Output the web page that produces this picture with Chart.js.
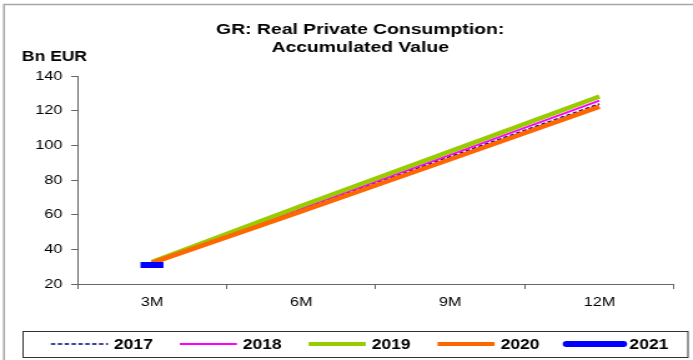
<!DOCTYPE html>
<html>
<head>
<meta charset="utf-8">
<title>GR: Real Private Consumption</title>
<script src="https://cdn.jsdelivr.net/npm/chart.js@4.4.0/dist/chart.umd.min.js"></script>
<style>
    html, body { margin: 0; padding: 0; background: #fff; overflow: hidden; }
    /* the sheet is laid out narrow and stretched wide, like the exported chart */
    #wrap { width: 555px; height: 360px; transform: scaleX(1.2486); transform-origin: 0 0; }
</style>
</head>
<body>
<div id="wrap"><canvas id="chart" width="555" height="360"></canvas></div>
<script>
// Quarterly accumulated real private consumption, bn EUR
const quarters = ['3M', '6M', '9M', '12M'];
const y2017 = [32.3, 63.0, 93.5, 123.9];
const y2018 = [32.4, 63.6, 94.5, 125.8];
const y2019 = [32.6, 65.0, 96.5, 128.2];
const y2020 = [32.2, 61.8, 92.0, 122.3];
const y2021 = [31.0];

const yTicks = [20, 40, 60, 80, 100, 120, 140];

const FONT = '"Liberation Sans", Arial, sans-serif';

// title, unit label, frame and the boxed legend at the bottom
const decorations = {
    id: 'decorations',
    afterDraw(chart) {
        const ctx = chart.ctx;
        ctx.save();

        // outer frame (only top and left edge show)
        ctx.strokeStyle = '#a6a6a6';
        ctx.lineWidth = 1.5;
        ctx.beginPath();
        ctx.moveTo(3.2, 360);
        ctx.lineTo(3.2, 4.5);
        ctx.lineTo(555, 4.5);
        ctx.stroke();

        ctx.fillStyle = '#000';
        ctx.font = 'bold 15.5px ' + FONT;
        ctx.textAlign = 'center';
        ctx.textBaseline = 'alphabetic';
        ctx.fillText('GR: Real Private Consumption:', 288.5, 33.5);
        ctx.fillText('Accumulated Value', 288.5, 51.5);

        ctx.font = 'bold 14px ' + FONT;
        ctx.textAlign = 'left';
        ctx.fillText('Bn EUR', 17.6, 61);

        // legend box
        ctx.strokeStyle = '#333';
        ctx.lineWidth = 1;
        ctx.strokeRect(18.5, 331.5, 532.5, 26);

        const cy = 344;
        chart.data.datasets.forEach((ds, i) => {
            const x0 = 40.8 + i * 103.2;
            ctx.save();
            ctx.strokeStyle = ds.legendColor;
            ctx.lineWidth = ds.legendLineWidth;
            ctx.lineCap = ds.legendCap || 'butt';
            ctx.setLineDash(ds.borderDash || []);
            ctx.beginPath();
            ctx.moveTo(x0, cy);
            ctx.lineTo(x0 + 45.7, cy);
            ctx.stroke();
            ctx.restore();

            ctx.fillStyle = '#000';
            ctx.font = 'bold 14px ' + FONT;
            ctx.textAlign = 'left';
            ctx.textBaseline = 'middle';
            ctx.fillText(ds.label, x0 + 50.5, cy + 1);
        });

        ctx.restore();
    }
};

const datasets = [
    {
        label: '2017',
        data: y2017,
        borderColor: '#000080',
        borderWidth: 1.5,
        borderDash: [3.5, 2],
        legendColor: '#000080',
        legendLineWidth: 1.5,
        order: 4
    },
    {
        label: '2018',
        data: y2018,
        borderColor: '#FF00FF',
        borderWidth: 2,
        legendColor: '#FF00FF',
        legendLineWidth: 2,
        order: 3
    },
    {
        label: '2019',
        data: y2019,
        borderColor: '#99CC00',
        borderWidth: 4.5,
        legendColor: '#99CC00',
        legendLineWidth: 4,
        order: 2
    },
    {
        label: '2020',
        data: y2020,
        borderColor: '#FF6600',
        borderWidth: 4.5,
        legendColor: '#FF6600',
        legendLineWidth: 4,
        order: 1
    },
    {
        label: '2021',
        data: y2021,
        borderColor: '#0000FF',
        borderWidth: 6,
        pointStyle: 'line',
        pointRadius: 9.2,
        pointBorderWidth: 6,
        pointBorderColor: '#0000FF',
        legendColor: '#0000FF',
        legendLineWidth: 6,
        legendCap: 'round',
        order: 0
    }
];

new Chart(document.getElementById('chart'), {
    type: 'line',
    data: { labels: quarters, datasets },
    options: {
        responsive: false,
        animation: false,
        events: [],
        layout: { padding: { top: 76, right: 13, left: 0, bottom: 0 } },
        elements: {
            line: { tension: 0, fill: false },
            point: { radius: 0 }
        },
        plugins: {
            legend: { display: false },
            title: { display: false },
            tooltip: { enabled: false }
        },
        scales: {
            x: {
                offset: true,
                grid: {
                    offset: true,
                    drawOnChartArea: false,
                    drawTicks: true,
                    tickLength: 5,
                    color: '#666'
                },
                border: { color: '#666', width: 1 },
                ticks: {
                    color: '#000',
                    padding: 6,
                    maxRotation: 0,
                    font: { family: FONT, size: 13 }
                },
                afterFit(scale) { scale.height = 76; }
            },
            y: {
                min: 20,
                max: 140,
                afterBuildTicks(scale) {
                    scale.ticks = yTicks.map(v => ({ value: v }));
                },
                grid: {
                    drawOnChartArea: false,
                    drawTicks: true,
                    tickLength: 5,
                    color: '#666'
                },
                border: { color: '#666', width: 1 },
                ticks: {
                    color: '#000',
                    padding: 7,
                    font: { family: FONT, size: 13 }
                },
                afterFit(scale) { scale.width = 62; }
            }
        }
    },
    plugins: [decorations]
});
</script>
</body>
</html>
